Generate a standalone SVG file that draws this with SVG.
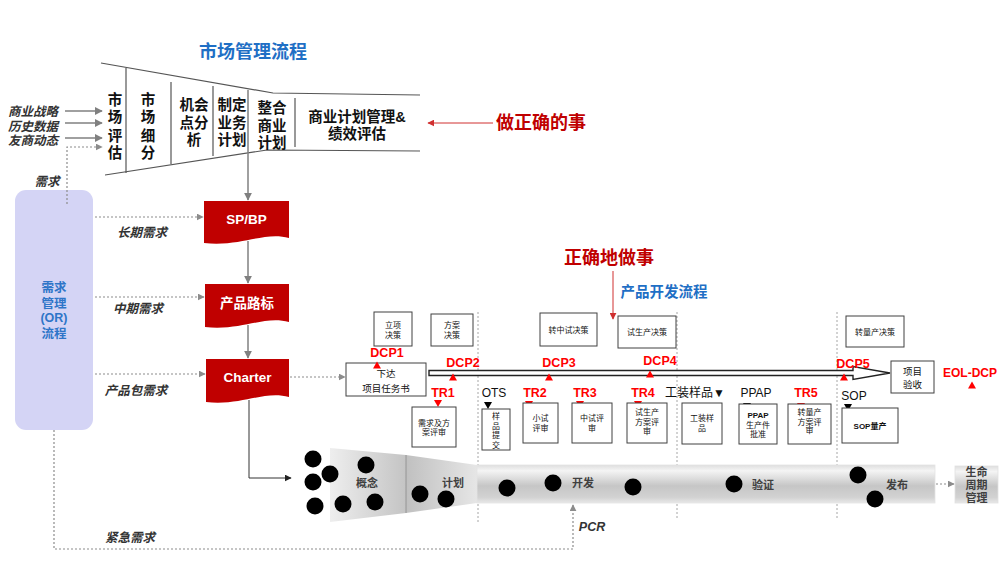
<svg xmlns="http://www.w3.org/2000/svg" width="1000" height="563" viewBox="0 0 1000 563">
<defs>
<style>
text{font-family:"Liberation Sans","Noto Sans CJK SC",sans-serif;}
.ttl{font-size:18px;font-weight:700;fill:#1f6fc5;text-anchor:middle}
.big{font-size:18px;font-weight:700;fill:#c00000;text-anchor:middle}
.fn{font-size:14.5px;font-weight:700;fill:#111;text-anchor:middle}
.in{font-size:12.5px;font-weight:700;font-style:italic;fill:#333;text-anchor:end}
.lbl{font-size:12.5px;font-weight:700;font-style:italic;fill:#333;text-anchor:middle}
.rb{fill:#c00000}
.rt{font-size:13.5px;font-weight:700;fill:#fff;text-anchor:middle}
.or{font-size:12.5px;font-weight:700;fill:#2e75c8;text-anchor:middle}
.dcp{font-size:12.5px;font-weight:700;fill:#ff0000;text-anchor:middle}
.box{fill:#fff;stroke:#404040;stroke-width:1}
.st{font-size:8px;fill:#111;text-anchor:middle}
.sb{font-size:8px;font-weight:700;fill:#111;text-anchor:middle}
.ms{font-size:12px;fill:#111;text-anchor:middle}
.fl{stroke:#555;stroke-width:1.2;fill:none}
.gl{stroke:#808080;stroke-width:1.5;fill:none}
.dot{stroke:#8c8c8c;stroke-width:1.2;stroke-dasharray:2 2;fill:none}
.div{stroke:#a6a6a6;stroke-width:1;stroke-dasharray:2 2;fill:none}
.rl{stroke:#d03030;stroke-width:1;fill:none}
.tr{fill:#ff0000}
.tk{fill:#000}
.pt{font-size:11px;font-weight:700;fill:#404040;text-anchor:middle}
</style>
<marker id="aG" viewBox="0 0 10 10" refX="9" refY="5" markerWidth="8" markerHeight="8" markerUnits="userSpaceOnUse" orient="auto"><path d="M0,0 L10,5 L0,10 z" fill="#808080"/></marker>
<marker id="aD" viewBox="0 0 10 10" refX="9" refY="5" markerWidth="7" markerHeight="7" markerUnits="userSpaceOnUse" orient="auto"><path d="M0,0 L10,5 L0,10 z" fill="#8c8c8c"/></marker>
<marker id="aR" viewBox="0 0 10 10" refX="9" refY="5" markerWidth="7" markerHeight="7" markerUnits="userSpaceOnUse" orient="auto"><path d="M0,0 L10,5 L0,10 z" fill="#d03030"/></marker>
<marker id="aK" viewBox="0 0 10 10" refX="9" refY="5" markerWidth="7" markerHeight="7" markerUnits="userSpaceOnUse" orient="auto"><path d="M0,0 L10,5 L0,10 z" fill="#222"/></marker>
<linearGradient id="gC" x1="0" y1="0" x2="1" y2="0"><stop offset="0" stop-color="#eeeeee"/><stop offset="1" stop-color="#c4c4c4"/></linearGradient>
<linearGradient id="gP" x1="0" y1="0" x2="1" y2="0"><stop offset="0" stop-color="#c0c0c0"/><stop offset="1" stop-color="#e6e6e6"/></linearGradient>
<linearGradient id="gT" x1="0" y1="0" x2="0" y2="1"><stop offset="0" stop-color="#dedede"/><stop offset="0.15" stop-color="#f4f4f4"/><stop offset="0.55" stop-color="#c6c6c6"/><stop offset="0.85" stop-color="#d2d2d2"/><stop offset="1" stop-color="#e8e8e8"/></linearGradient>
</defs>
<rect width="1000" height="563" fill="#fff"/>

<g id="market-funnel">
<text class="ttl" x="253" y="57.5">市场管理流程</text>
<polyline class="fl" points="101,63 273,93 420,95"/>
<polyline class="fl" points="105,175 267,150 420,151"/>
<line class="fl" x1="126" y1="68" x2="126" y2="173"/>
<line class="fl" x1="171" y1="82" x2="171" y2="164"/>
<line class="fl" x1="213" y1="86" x2="213" y2="156"/>
<line class="fl" x1="295" y1="98" x2="295" y2="147"/>
<text class="fn" x="115" y="105">市</text><text class="fn" x="115" y="122">场</text><text class="fn" x="115" y="141">评</text><text class="fn" x="115" y="158">估</text>
<text class="fn" x="148" y="105">市</text><text class="fn" x="148" y="122">场</text><text class="fn" x="148" y="141">细</text><text class="fn" x="148" y="158">分</text>
<text class="fn" x="194" y="110">机会</text><text class="fn" x="194" y="128">点分</text><text class="fn" x="194" y="145">析</text>
<text class="fn" x="232" y="110">制定</text><text class="fn" x="232" y="128">业务</text><text class="fn" x="232" y="145">计划</text>
<text class="fn" x="272" y="113">整合</text><text class="fn" x="272" y="131">商业</text><text class="fn" x="272" y="148">计划</text>
<text class="fn" x="357" y="122">商业计划管理&amp;</text><text class="fn" x="357" y="139">绩效评估</text>
</g>

<g id="inputs">
<text class="in" x="58" y="116">商业战略</text>
<text class="in" x="58" y="131">历史数据</text>
<text class="in" x="58" y="144.5">友商动态</text>
<text class="lbl" x="47" y="186">需求</text>
</g>

<g id="right-thing">
<text class="big" x="541" y="128.5">做正确的事</text>
</g>
<g id="do-right">
<text class="big" x="609" y="263.5">正确地做事</text>
<text class="ttl" style="font-size:14.5px" x="664" y="297">产品开发流程</text>
</g>

<g id="demand-mgmt">
<rect x="15" y="190" width="78" height="240" rx="11" fill="#d4d4f5"/>
<text class="or" x="54" y="291.5">需求</text>
<text class="or" x="54" y="307.5">管理</text>
<text class="or" x="54" y="321.5">(OR)</text>
<text class="or" x="54" y="337.5">流程</text>
</g>

<g id="spbp">
<path class="rb" d="M204,201 H289 V238 C264,231 242,247 204,243 Z"/>
<text class="rt" x="246.5" y="223.5">SP/BP</text>
</g>
<g id="roadmap">
<path class="rb" d="M205,284 H289 V322 C264,315 242,331 205,327 Z"/>
<text class="rt" x="247" y="307.5">产品路标</text>
</g>
<g id="charter">
<path class="rb" d="M206,359 H289 V397 C264,390 242,406 206,402 Z"/>
<text class="rt" x="247.5" y="382">Charter</text>
</g>

<g id="demand-labels">
<text class="lbl" x="142" y="236.5">长期需求</text>
<text class="lbl" x="138" y="312.5">中期需求</text>
<text class="lbl" x="136" y="394.5">产品包需求</text>
<text class="lbl" x="130" y="541.5">紧急需求</text>
<text class="lbl" x="592" y="531">PCR</text>
</g>

<g id="dividers">
<line class="div" x1="478" y1="312" x2="478" y2="522"/>
<line class="div" x1="677" y1="312" x2="677" y2="518"/>
<line class="div" x1="837" y1="312" x2="837" y2="520"/>
</g>

<g id="decision-boxes">
<rect class="box" x="374" y="312" width="38" height="34"/>
<text class="st" x="393" y="328">立项</text><text class="st" x="393" y="337.5">决策</text>
<rect class="box" x="431" y="314" width="42" height="32"/>
<text class="st" x="452" y="328">方案</text><text class="st" x="452" y="337.5">决策</text>
<rect class="box" x="540" y="313" width="57" height="33"/>
<text class="st" x="568.5" y="332.5">转中试决策</text>
<rect class="box" x="618" y="316" width="58" height="32"/>
<text class="st" x="647" y="335">试生产决策</text>
<rect class="box" x="846" y="316" width="58" height="31"/>
<text class="st" x="875" y="334.5">转量产决策</text>
</g>

<g id="task-book">
<rect class="box" x="346" y="363" width="80" height="33"/>
<text class="st" style="font-size:9.5px" x="386" y="376.5">下达</text>
<text class="st" style="font-size:9.5px" x="386" y="391.5">项目任务书</text>
</g>

<g id="timeline">
<polygon points="429,370.5 853,370.5 853,366.5 890,373 853,379.5 853,375.5 429,375.5" fill="#fff" stroke="#222" stroke-width="1.4"/>
</g>

<g id="acceptance">
<rect class="box" x="891" y="361" width="43" height="32"/>
<text class="st" style="font-size:9.5px" x="912.5" y="375">项目</text>
<text class="st" style="font-size:9.5px" x="912.5" y="388">验收</text>
</g>

<g id="dcps">
<text class="dcp" x="387" y="356.5">DCP1</text><polygon class="tr" points="373,368.5 381,368.5 377,361.5"/>
<text class="dcp" x="463" y="366.5">DCP2</text><polygon class="tr" points="449,380.5 457,380.5 453,373.5"/>
<text class="dcp" x="559" y="366.5">DCP3</text><polygon class="tr" points="545,380.5 553,380.5 549,373.5"/>
<text class="dcp" x="660" y="364.5">DCP4</text><polygon class="tr" points="646,377.5 654,377.5 650,370.5"/>
<text class="dcp" x="853" y="367.5">DCP5</text><polygon class="tr" points="840,380.5 848,380.5 844,373.5"/>
<text class="dcp" style="font-size:12px;text-anchor:end" x="997" y="376.5">EOL-DCP</text><polygon class="tr" points="968,388.5 976,388.5 972,381.5"/>
</g>

<g id="reviews">
<text class="dcp" x="443" y="396.5">TR1</text><polygon class="tr" points="434,400 442,400 438,407"/>
<rect class="box" x="412" y="407" width="44" height="40"/>
<text class="st" x="434" y="425.5">需求及方</text><text class="st" x="434" y="435">案评审</text>

<text class="ms" x="494" y="396.5">OTS</text><polygon class="tk" points="484,402 492,402 488,409"/>
<rect class="box" x="482" y="409" width="28" height="41"/>
<text class="st" x="496" y="419">样</text><text class="st" x="496" y="428.5">品</text><text class="st" x="496" y="438">提</text><text class="st" x="496" y="447.5">交</text>

<text class="dcp" x="535" y="396.5">TR2</text><polygon class="tr" points="525,401 533,401 529,408"/>
<rect class="box" x="523" y="403" width="35" height="40"/>
<text class="st" x="540.5" y="421">小试</text><text class="st" x="540.5" y="430.5">评审</text>

<text class="dcp" x="585" y="396.5">TR3</text><polygon class="tr" points="576,401 584,401 580,408"/>
<rect class="box" x="572" y="403" width="40" height="40"/>
<text class="st" x="592" y="421">中试评</text><text class="st" x="592" y="430.5">审</text>

<text class="dcp" x="643" y="396.5">TR4</text><polygon class="tr" points="634,401 642,401 638,408"/>
<rect class="box" x="627" y="403" width="40" height="40"/>
<text class="st" x="647" y="415">试生产</text><text class="st" x="647" y="425">方案评</text><text class="st" x="647" y="433.5">审</text>

<text class="ms" x="695" y="396.5">工装样品▼</text>
<rect class="box" x="682" y="403" width="40" height="41"/>
<text class="st" x="702" y="421">工装样</text><text class="st" x="702" y="430.5">品</text>

<text class="ms" x="756" y="396.5">PPAP</text><polygon class="tk" points="743,403 751,403 747,410"/>
<rect class="box" x="739" y="404" width="38" height="40"/>
<text class="sb" x="758" y="418">PPAP</text><text class="st" x="758" y="427.5">生产件</text><text class="st" x="758" y="436.5">批准</text>

<text class="dcp" x="806" y="396.5">TR5</text><polygon class="tr" points="797,403 805,403 801,410"/>
<rect class="box" x="788" y="404" width="43" height="40"/>
<text class="st" x="809.5" y="415">转量产</text><text class="st" x="809.5" y="424.5">方案评</text><text class="st" x="809.5" y="433">审</text>

<text class="ms" x="854" y="399.5">SOP</text><polygon class="tk" points="844,404 852,404 848,411"/>
<rect class="box" x="842" y="408" width="56" height="35"/>
<text class="sb" x="870" y="429">SOP量产</text>
</g>

<g id="pipeline">
<polygon points="330,448 406,455 406,513 330,522" fill="url(#gC)"/>
<polygon points="406,455 477,465 477,503 406,513" fill="url(#gP)"/>
<line x1="406" y1="455" x2="406" y2="513" stroke="#8a8a8a" stroke-width="0.8"/>
<rect x="477" y="465" width="458" height="38" fill="url(#gT)" stroke="#e4e4e4" stroke-width="0.8"/>
<text class="pt" x="367" y="487">概念</text>
<text class="pt" x="453" y="487">计划</text>
<text class="pt" x="583" y="487">开发</text>
<text class="pt" x="763" y="489">验证</text>
<text class="pt" x="897" y="489">发布</text>
<g fill="#000">
<circle cx="313" cy="459" r="8.5"/><circle cx="330" cy="474" r="8.5"/><circle cx="313" cy="482" r="8.5"/>
<circle cx="315" cy="506" r="8.5"/><circle cx="343" cy="504" r="8.5"/><circle cx="366" cy="465" r="8.5"/>
<circle cx="375" cy="502" r="8.5"/><circle cx="420" cy="494" r="8.5"/><circle cx="446" cy="499" r="8.5"/>
<circle cx="507" cy="488" r="8.5"/><circle cx="553" cy="483" r="8.5"/><circle cx="633" cy="487" r="8.5"/>
<circle cx="734" cy="484" r="8.5"/><circle cx="858" cy="475" r="8.5"/><circle cx="875" cy="499" r="8.5"/>
</g>
</g>

<g id="lifecycle">
<rect x="955" y="466" width="43" height="37" fill="url(#gT)" stroke="#e0e0e0" stroke-width="0.8"/>
<text class="pt" x="976.5" y="476">生命</text>
<text class="pt" x="976.5" y="489">周期</text>
<text class="pt" x="976.5" y="501.5">管理</text>
</g>

<g id="connectors">
<line class="gl" x1="65" y1="111" x2="102" y2="111" marker-end="url(#aG)"/>
<line class="gl" x1="65" y1="123" x2="102" y2="123" marker-end="url(#aG)"/>
<line class="gl" x1="65" y1="138" x2="102" y2="138" marker-end="url(#aG)"/>
<polyline class="dot" points="67,204 67,147 102,147" marker-end="url(#aD)"/>
<line class="gl" x1="248" y1="90" x2="248" y2="200" marker-end="url(#aG)"/>
<line class="gl" x1="248" y1="241" x2="248" y2="283" marker-end="url(#aG)"/>
<line class="gl" x1="248" y1="325" x2="248" y2="358" marker-end="url(#aG)"/>
<polyline points="249,400 249,478 291,478" fill="none" stroke="#333" stroke-width="1" marker-end="url(#aK)"/>
<line class="dot" x1="95" y1="217" x2="203" y2="217" marker-end="url(#aD)"/>
<line class="dot" x1="95" y1="297" x2="204" y2="297" marker-end="url(#aD)"/>
<line class="dot" x1="95" y1="374" x2="205" y2="374" marker-end="url(#aD)"/>
<line class="dot" x1="290" y1="377" x2="345" y2="377" marker-end="url(#aD)"/>
<polyline class="dot" points="54,430 54,549 573,549 573,505" marker-end="url(#aD)"/>
<line class="dot" x1="936" y1="484" x2="954" y2="484" marker-end="url(#aD)"/>
<line class="rl" x1="493" y1="123" x2="428" y2="123" marker-end="url(#aR)"/>
<line class="rl" x1="613" y1="271" x2="613" y2="319" marker-end="url(#aR)"/>
</g>
</svg>
